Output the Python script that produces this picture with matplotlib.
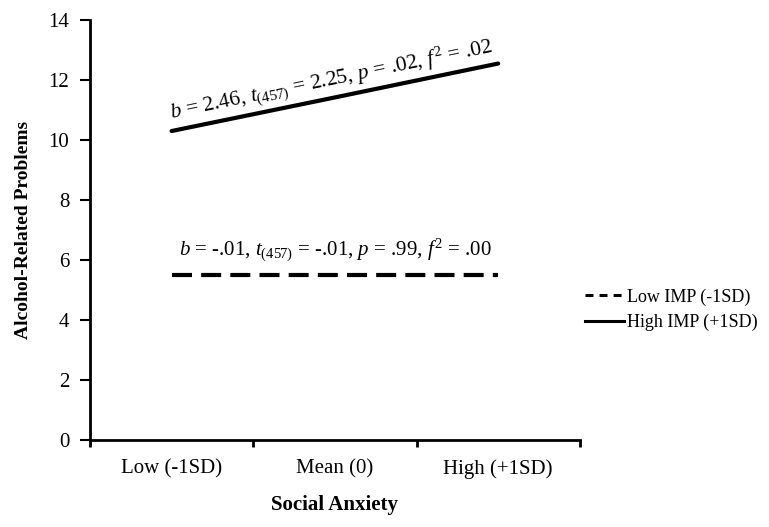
import numpy as np
import matplotlib
matplotlib.use("Agg")
import matplotlib.pyplot as plt
from matplotlib.lines import Line2D

#DATA
categories = ["Low (-1SD)", "Mean (0)", "High (+1SD)"]
low_imp = [5.5, 5.5, 5.5]
high_imp = [10.3, 11.42, 12.55]
series_names = ["Low IMP (-1SD)", "High IMP (+1SD)"]
high_note = r"$b$ = 2.46, $t_{(457)}$ = 2.25, $p$ = .02, $f^2$ = .02"
low_note = r"$b$ = -.01, $t_{(457)}$ = -.01, $p$ = .99, $f^2$ = .00"

#STYLE
plt.rcParams["font.family"] = ["Liberation Serif", "DejaVu Serif"]
plt.rcParams["mathtext.fontset"] = "custom"
plt.rcParams["mathtext.rm"] = "Liberation Serif"
plt.rcParams["mathtext.it"] = "Liberation Serif:italic"
plt.rcParams["mathtext.bf"] = "Liberation Serif:bold"

fig = plt.figure(figsize=(7.69, 5.27), dpi=100)
ax = fig.add_axes([0.117, 0.165, 0.637, 0.797])

x = np.arange(len(categories))
ax.plot(x, low_imp, color="black", lw=3, dashes=(4.8, 2.2))
ax.plot(x, high_imp, color="black", lw=3, solid_capstyle="round")

ax.set_xlim(-0.5, 2.5)
ax.set_ylim(0, 14)
ax.set_yticks(np.arange(0, 15, 2))
ax.set_xticks(x)
ax.set_xticklabels(categories)
ax.set_xticks(np.arange(-0.5, 3, 1), minor=True)
ax.tick_params(axis="x", which="major", length=0, pad=14, labelsize=15)
ax.tick_params(axis="x", which="minor", length=5, width=2, direction="out")
ax.tick_params(axis="y", length=7, width=1.5, direction="out", labelsize=15, pad=8)

for s in ["top", "right"]:
    ax.spines[s].set_visible(False)
for s in ["left", "bottom"]:
    ax.spines[s].set_linewidth(2)

ax.set_xlabel("Social Anxiety", fontsize=15, fontweight="bold", labelpad=11)
ax.set_ylabel("Alcohol-Related Problems", fontsize=14, fontweight="bold", labelpad=12)

# rotated note along the high line
p1 = ax.transData.transform((x[0], high_imp[0]))
p2 = ax.transData.transform((x[-1], high_imp[-1]))
ang = np.degrees(np.arctan2(p2[1] - p1[1], p2[0] - p1[0]))
off = 3
ax.annotate(high_note, (x[1], high_imp[1]), xytext=(-off * np.sin(np.radians(ang)), off * np.cos(np.radians(ang))),
            textcoords="offset points", ha="center", va="bottom", rotation=ang,
            rotation_mode="anchor", fontsize=15.5)
ax.annotate(low_note, (x[1], low_imp[1]), xytext=(0, 8), textcoords="offset points",
            ha="center", va="bottom", fontsize=15)

# legend lines are thinner than the plotted ones
handles = [Line2D([], [], color="black", lw=2.2, dashes=(2.6, 2.0)),
           Line2D([], [], color="black", lw=2.2)]
ax.legend(handles, series_names, loc="center left", bbox_to_anchor=(0.995, 0.31), frameon=False,
          fontsize=13, handlelength=2.2, handletextpad=0.15, labelspacing=0.45, borderaxespad=0)

fig.savefig("out.png", dpi=100)
